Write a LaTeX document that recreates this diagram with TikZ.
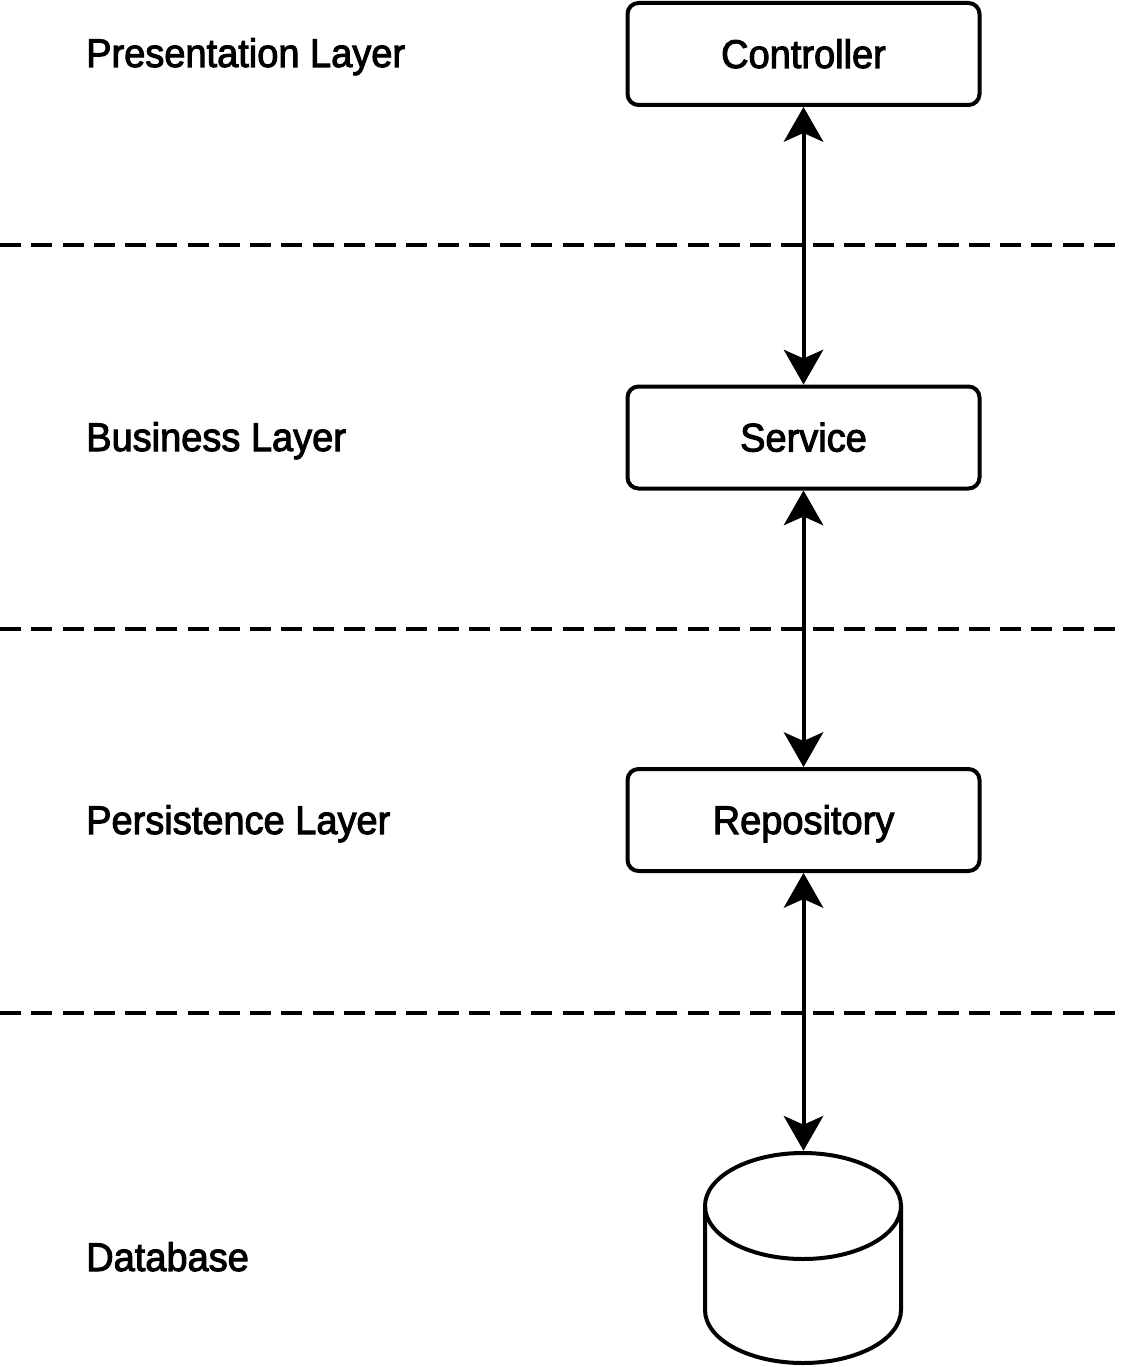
\documentclass[tikz,border=0pt]{standalone}
\usepackage{fontspec}
\setmainfont{Liberation Sans}[FakeBold=2.5,FakeStretch=0.95]
\usetikzlibrary{arrows.meta}
\begin{document}
\begin{tikzpicture}[x=1pt,y=-1pt,
  lw/.style={line width=4pt},
  layerbox/.style={draw, lw, rounded corners=11pt, minimum width=352pt, minimum height=102pt,
    inner sep=0pt, text height=28pt, text depth=0pt, font=\fontsize{40}{46}\selectfont},
  layerlabel/.style={anchor=base west, inner sep=0pt, font=\fontsize{40}{46}\selectfont},
  sep/.style={lw, dash pattern=on 21pt off 10.25pt},
  link/.style={lw, {Stealth[length=35pt,width=40pt,inset=9pt,line width=0pt]}-{Stealth[length=35pt,width=40pt,inset=9pt,line width=0pt]}}
]
\useasboundingbox (0,0) rectangle (1125,1367);

% layer separators
\coordinate (s1a) at (0,245);  \coordinate (s1b) at (1115,245);
\coordinate (s2a) at (0,629);  \coordinate (s2b) at (1115,629);
\coordinate (s3a) at (0,1013); \coordinate (s3b) at (1115,1013);
\draw[sep] (s1a) -- (s1b);
\draw[sep] (s2a) -- (s2b);
\draw[sep] (s3a) -- (s3b);

% labels
\node[layerlabel] (lp) at (86,67) {Presentation Layer};
\node[layerlabel] (lb) at (86,451) {Business Layer};
\node[layerlabel] (lr) at (86,834) {Persistence Layer};
\node[layerlabel] (ld) at (86,1271) {Database};

% boxes
\node[layerbox] (ctrl) at (803.5,54) {Controller};
\node[layerbox] (svc) at (803.5,437.5) {Service};
\node[layerbox] (repo) at (803.5,820) {Repository};

% database cylinder
\coordinate (dbtop) at (803.5,1150.7);
\draw[lw] (803,1206) ellipse [x radius=98pt, y radius=53pt];
\draw[lw] (705,1206) -- (705,1310) arc[start angle=180, end angle=360, x radius=98pt, y radius=53pt] -- (901,1206);

% connectors
\draw[link] (ctrl.south) -- (svc.north);
\draw[link] (svc.south) -- (repo.north);
\draw[link] (repo.south) -- (dbtop);
\end{tikzpicture}
\end{document}
